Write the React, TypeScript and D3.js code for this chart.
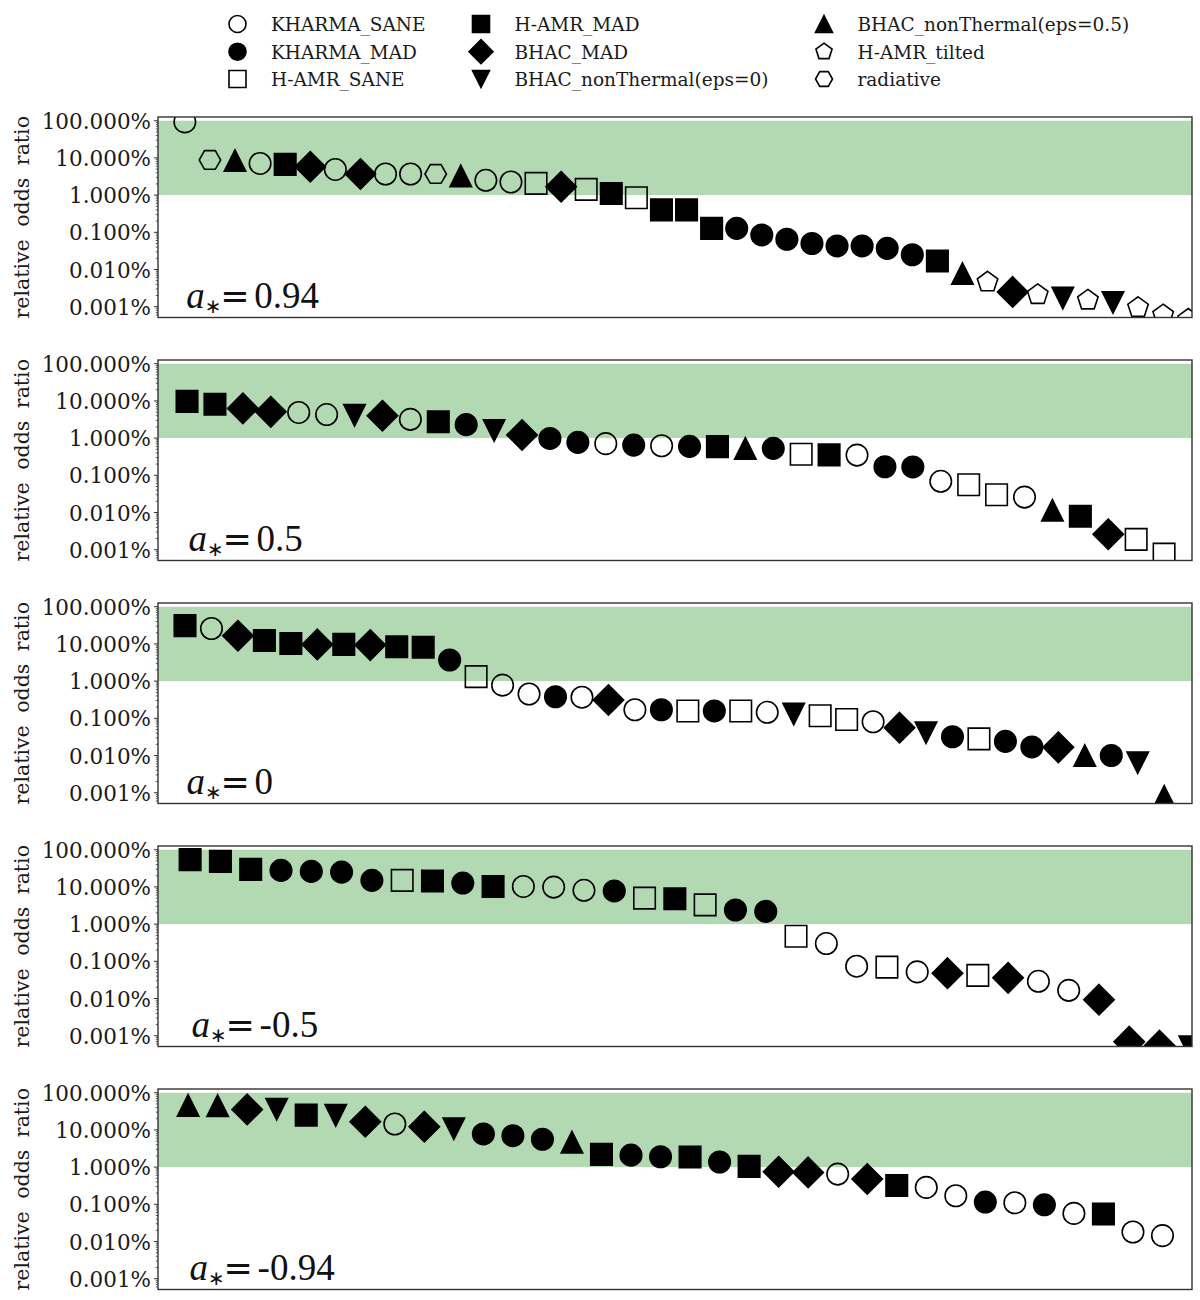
import React from "react";
import * as d3 from "d3";

// ---------------- data ----------------
const modelKeys = ["KS", "KM", "HS", "HM", "BM", "B0", "B5", "HT", "R"];
const modelNames = [
  "KHARMA_SANE",
  "KHARMA_MAD",
  "H-AMR_SANE",
  "H-AMR_MAD",
  "BHAC_MAD",
  "BHAC_nonThermal(eps=0)",
  "BHAC_nonThermal(eps=0.5)",
  "H-AMR_tilted",
  "radiative",
];
const modelShapes = ["circle", "circle", "square", "square", "diamond", "triDown", "triUp", "pentagon", "hexagon"];
const modelFilled = [false, true, false, true, true, true, true, false, false];

const spinLabels = ["0.94", "0.5", "0", "-0.5", "-0.94"];

const modelsSpin094 = [
  "KS", "R", "B5", "KS", "HM", "BM", "KS", "BM", "KS", "KS", "R", "B5", "KS", "KS", "HS", "BM", "HS", "HM", "HS", "HM",
  "HM", "HM", "KM", "KM", "KM", "KM", "KM", "KM", "KM", "KM", "HM", "B5", "HT", "BM", "HT", "B0", "HT", "B0", "HT", "HT", "HT",
];
const oddsSpin094 = [
  93, 8.8, 8.5, 7.1, 6.7, 5.8, 4.9, 3.7, 3.7, 3.7, 3.7, 3.3, 2.5, 2.25, 2.07, 1.68, 1.43, 1.11, 0.85, 0.4,
  0.4, 0.128, 0.128, 0.085, 0.065, 0.05, 0.043, 0.043, 0.037, 0.025, 0.017, 0.0078, 0.0046, 0.0025, 0.0021, 0.0017, 0.0015, 0.0013, 0.00095, 0.0006, 0.00046,
];

const modelsSpin05 = [
  "HM", "HM", "BM", "BM", "KS", "KS", "B0", "BM", "KS", "HM", "KM", "B0", "BM", "KM", "KM", "KS", "KM", "KS",
  "KM", "HM", "B5", "KM", "HS", "HM", "KS", "KM", "KM", "KS", "HS", "HS", "KS", "B5", "HM", "BM", "HS", "HS",
];
const oddsSpin05 = [
  9.7, 8.1, 6.3, 5.1, 4.9, 4.3, 4.1, 4.0, 3.2, 2.76, 2.3, 1.6, 1.21, 0.98, 0.77, 0.71, 0.65, 0.625,
  0.6, 0.59, 0.53, 0.53, 0.37, 0.355, 0.35, 0.17, 0.168, 0.069, 0.056, 0.03, 0.026, 0.0115, 0.0079, 0.0026, 0.0019, 0.00076,
];

const modelsSpin0 = [
  "HM", "KS", "BM", "HM", "HM", "BM", "HM", "BM", "HM", "HM", "KM", "HS", "KS", "KS", "KM", "KS", "BM", "KS", "KM",
  "HS", "KM", "HS", "KS", "B0", "HS", "HS", "KS", "BM", "B0", "KM", "HS", "KM", "KM", "BM", "B5", "KM", "B0", "B5",
];
const oddsSpin0 = [
  31, 26, 16.6, 12.3, 10.3, 9.7, 9.7, 9.3, 8.4, 8.1, 3.7, 1.32, 0.78, 0.45, 0.38, 0.37, 0.31, 0.17, 0.17,
  0.158, 0.158, 0.158, 0.145, 0.13, 0.117, 0.093, 0.081, 0.056, 0.041, 0.032, 0.028, 0.024, 0.017, 0.0166, 0.01, 0.01, 0.0064, 0.0008,
];

const modelsSpinM05 = [
  "HM", "HM", "HM", "KM", "KM", "KM", "KM", "HS", "HM", "KM", "HM", "KS", "KS", "KS", "KM", "HS", "HM",
  "HS", "KM", "KM", "HS", "KS", "KS", "HS", "KS", "BM", "HS", "BM", "KS", "KS", "BM", "BM", "BM", "B0",
];
const oddsSpinM05 = [
  54, 48.5, 29.6, 27.8, 26.1, 25, 15, 15, 14.4, 12.7, 10.3, 10.3, 9.9, 8.1, 7.8, 5.0, 4.8,
  3.3, 2.4, 2.2, 0.47, 0.3, 0.074, 0.07, 0.052, 0.048, 0.042, 0.036, 0.029, 0.0166, 0.0093, 0.00069, 0.00054, 0.0005,
];

const modelsSpinM094 = [
  "B5", "B5", "BM", "B0", "HM", "B0", "BM", "KS", "BM", "B0", "KM", "KM", "KM", "B5", "HM", "KM", "KM",
  "HM", "KM", "HM", "BM", "BM", "KS", "BM", "HM", "KS", "KS", "KM", "KS", "KM", "KS", "HM", "KS", "KS",
];
const oddsSpinM094 = [
  45.6, 45, 35.6, 36, 25, 24.6, 16.6, 14.4, 12.2, 10.8, 7.8, 7.0, 5.6, 4.7, 2.2, 2.1, 1.9,
  1.87, 1.37, 1.05, 0.75, 0.72, 0.65, 0.48, 0.32, 0.285, 0.17, 0.115, 0.11, 0.097, 0.057, 0.055, 0.018, 0.0144,
];

const panelModels = [modelsSpin094, modelsSpin05, modelsSpin0, modelsSpinM05, modelsSpinM094];
const panelOdds = [oddsSpin094, oddsSpin05, oddsSpin0, oddsSpinM05, oddsSpinM094];
const panelXLimits: [number, number][] = [
  [-1.07, 40.15],
  [-1.04, 36.0],
  [-1.02, 38.05],
  [-1.06, 33.07],
  [-1.02, 34.0],
];

const yLimits = [Math.pow(10, -3.29), Math.pow(10, 2.1)];
const yTickValues = [100, 10, 1, 0.1, 0.01, 0.001];
const yTickLabels = ["100.000%", "10.000%", "1.000%", "0.100%", "0.010%", "0.001%"];
const bandRange = [1, 100];

// ---------------- layout ----------------
const W = 1200;
const H = 1300;
const left = 158;
const right = 1192;
const panelTop0 = 117;
const panelStep = 243;
const panelH = 200.5;
const markerSize = 21.5;
const legendMarkerSize = 17;
const serif = "'DejaVu Serif', serif";

function markerPath(shape: string, ms: number): string {
  const r = ms / 2;
  const p = d3.path();
  if (shape === "circle") {
    p.arc(0, 0, r, 0, 2 * Math.PI);
    p.closePath();
  } else if (shape === "square") {
    p.rect(-r, -r, ms, ms);
  } else if (shape === "diamond") {
    const d = r * Math.SQRT2;
    p.moveTo(0, -d);
    p.lineTo(d, 0);
    p.lineTo(0, d);
    p.lineTo(-d, 0);
    p.closePath();
  } else if (shape === "triUp") {
    p.moveTo(0, -r);
    p.lineTo(r, r);
    p.lineTo(-r, r);
    p.closePath();
  } else if (shape === "triDown") {
    p.moveTo(0, r);
    p.lineTo(r, -r);
    p.lineTo(-r, -r);
    p.closePath();
  } else if (shape === "pentagon") {
    for (let k = 0; k < 5; k++) {
      const a = -Math.PI / 2 + (k * 2 * Math.PI) / 5;
      if (k === 0) p.moveTo(r * Math.cos(a), r * Math.sin(a));
      else p.lineTo(r * Math.cos(a), r * Math.sin(a));
    }
    p.closePath();
  } else {
    for (let k = 0; k < 6; k++) {
      const a = (k * Math.PI) / 3;
      if (k === 0) p.moveTo(r * Math.cos(a), r * Math.sin(a));
      else p.lineTo(r * Math.cos(a), r * Math.sin(a));
    }
    p.closePath();
  }
  return p.toString();
}

function Marker({ model, x, y, ms }: { model: string; x: number; y: number; ms: number }) {
  const i = modelKeys.indexOf(model);
  const filled = modelFilled[i];
  return (
    <path
      d={markerPath(modelShapes[i], ms)}
      transform={`translate(${x},${y})`}
      fill={filled ? "#000" : "none"}
      stroke="#000"
      strokeWidth={1.6}
    />
  );
}

function Panel({ idx }: { idx: number }) {
  const top = panelTop0 + idx * panelStep;
  const bottom = top + panelH;
  const x = d3.scaleLinear().domain(panelXLimits[idx]).range([left, right]);
  const y = d3.scaleLog().domain(yLimits).range([bottom, top]);
  const models = panelModels[idx];
  const odds = panelOdds[idx];
  const clipId = `clip-${idx}`;

  const minorTicks: number[] = [];
  for (let e = -4; e <= 2; e++) {
    for (let m = 2; m <= 9; m++) {
      const v = m * Math.pow(10, e);
      if (v >= yLimits[0] && v <= yLimits[1]) minorTicks.push(v);
    }
  }

  const x0 = x(0) + 1.5;
  const baseY = bottom - 10;

  return (
    <g>
      <defs>
        <clipPath id={clipId}>
          <rect x={left} y={top} width={right - left} height={panelH} />
        </clipPath>
      </defs>
      <rect
        x={left}
        y={y(bandRange[1])}
        width={right - left}
        height={y(bandRange[0]) - y(bandRange[1])}
        fill="#b3d9b3"
      />
      <g clipPath={`url(#${clipId})`}>
        {models.map((m, i) => (
          <Marker key={i} model={m} x={x(i)} y={y(odds[i])} ms={markerSize} />
        ))}
      </g>
      <rect x={left} y={top} width={right - left} height={panelH} fill="none" stroke="#333" strokeWidth={1.4} />
      {minorTicks.map((v, i) => (
        <line key={"m" + i} x1={left} x2={left - 2.2} y1={y(v)} y2={y(v)} stroke="#333" strokeWidth={0.8} />
      ))}
      {yTickValues.map((v, i) => (
        <g key={"t" + i}>
          <line x1={left} x2={left - 4} y1={y(v)} y2={y(v)} stroke="#333" strokeWidth={1} />
          <text
            x={left - 7}
            y={y(v)}
            dy="0.38em"
            textAnchor="end"
            fontFamily={serif}
            fontSize={21.5}
            fill="#1a1a1a"
          >
            {yTickLabels[i]}
          </text>
        </g>
      ))}
      <text
        transform={`translate(29,${(top + bottom) / 2}) rotate(-90)`}
        textAnchor="middle"
        fontFamily={serif}
        fontSize={20.5}
        wordSpacing={6}
        fill="#1a1a1a"
      >
        relative odds ratio
      </text>
      <text x={x0} y={baseY} fontFamily="'Liberation Serif', serif" fontSize={37} fontStyle="italic" fill="#111">
        a
      </text>
      <text x={x0 + 18.5} y={baseY + 5} fontFamily="'DejaVu Sans', sans-serif" fontSize={20} fill="#111">
        ∗
      </text>
      <text x={x0 + 34} y={baseY} fontFamily="'DejaVu Sans', sans-serif" fontSize={35} fill="#111">
        =
      </text>
      <text x={x0 + 68} y={baseY} fontFamily="'Liberation Serif', serif" fontSize={37} fill="#111">
        {spinLabels[idx]}
      </text>
    </g>
  );
}

const legendColX = [237.5, 481, 824];
const legendRowY = [24, 51.7, 79];

function Legend() {
  return (
    <g>
      {modelKeys.map((k, i) => {
        const col = Math.floor(i / 3);
        const row = i % 3;
        const cx = legendColX[col];
        const cy = legendRowY[row];
        return (
          <g key={k}>
            <Marker model={k} x={cx} y={cy} ms={legendMarkerSize} />
            <text x={cx + 33.5} y={cy + 7} fontFamily={serif} fontSize={18.5} fill="#1a1a1a">
              {modelNames[i]}
            </text>
          </g>
        );
      })}
    </g>
  );
}

export default function App() {
  return (
    <div style={{ position: "absolute", left: 0, top: 0 }}>
      <svg width={W} height={H} viewBox={`0 0 ${W} ${H}`} style={{ display: "block", background: "#fff" }}>
        <rect x={0} y={0} width={W} height={H} fill="#fff" />
        <Legend />
        {panelModels.map((_, i) => (
          <Panel key={i} idx={i} />
        ))}
      </svg>
    </div>
  );
}
